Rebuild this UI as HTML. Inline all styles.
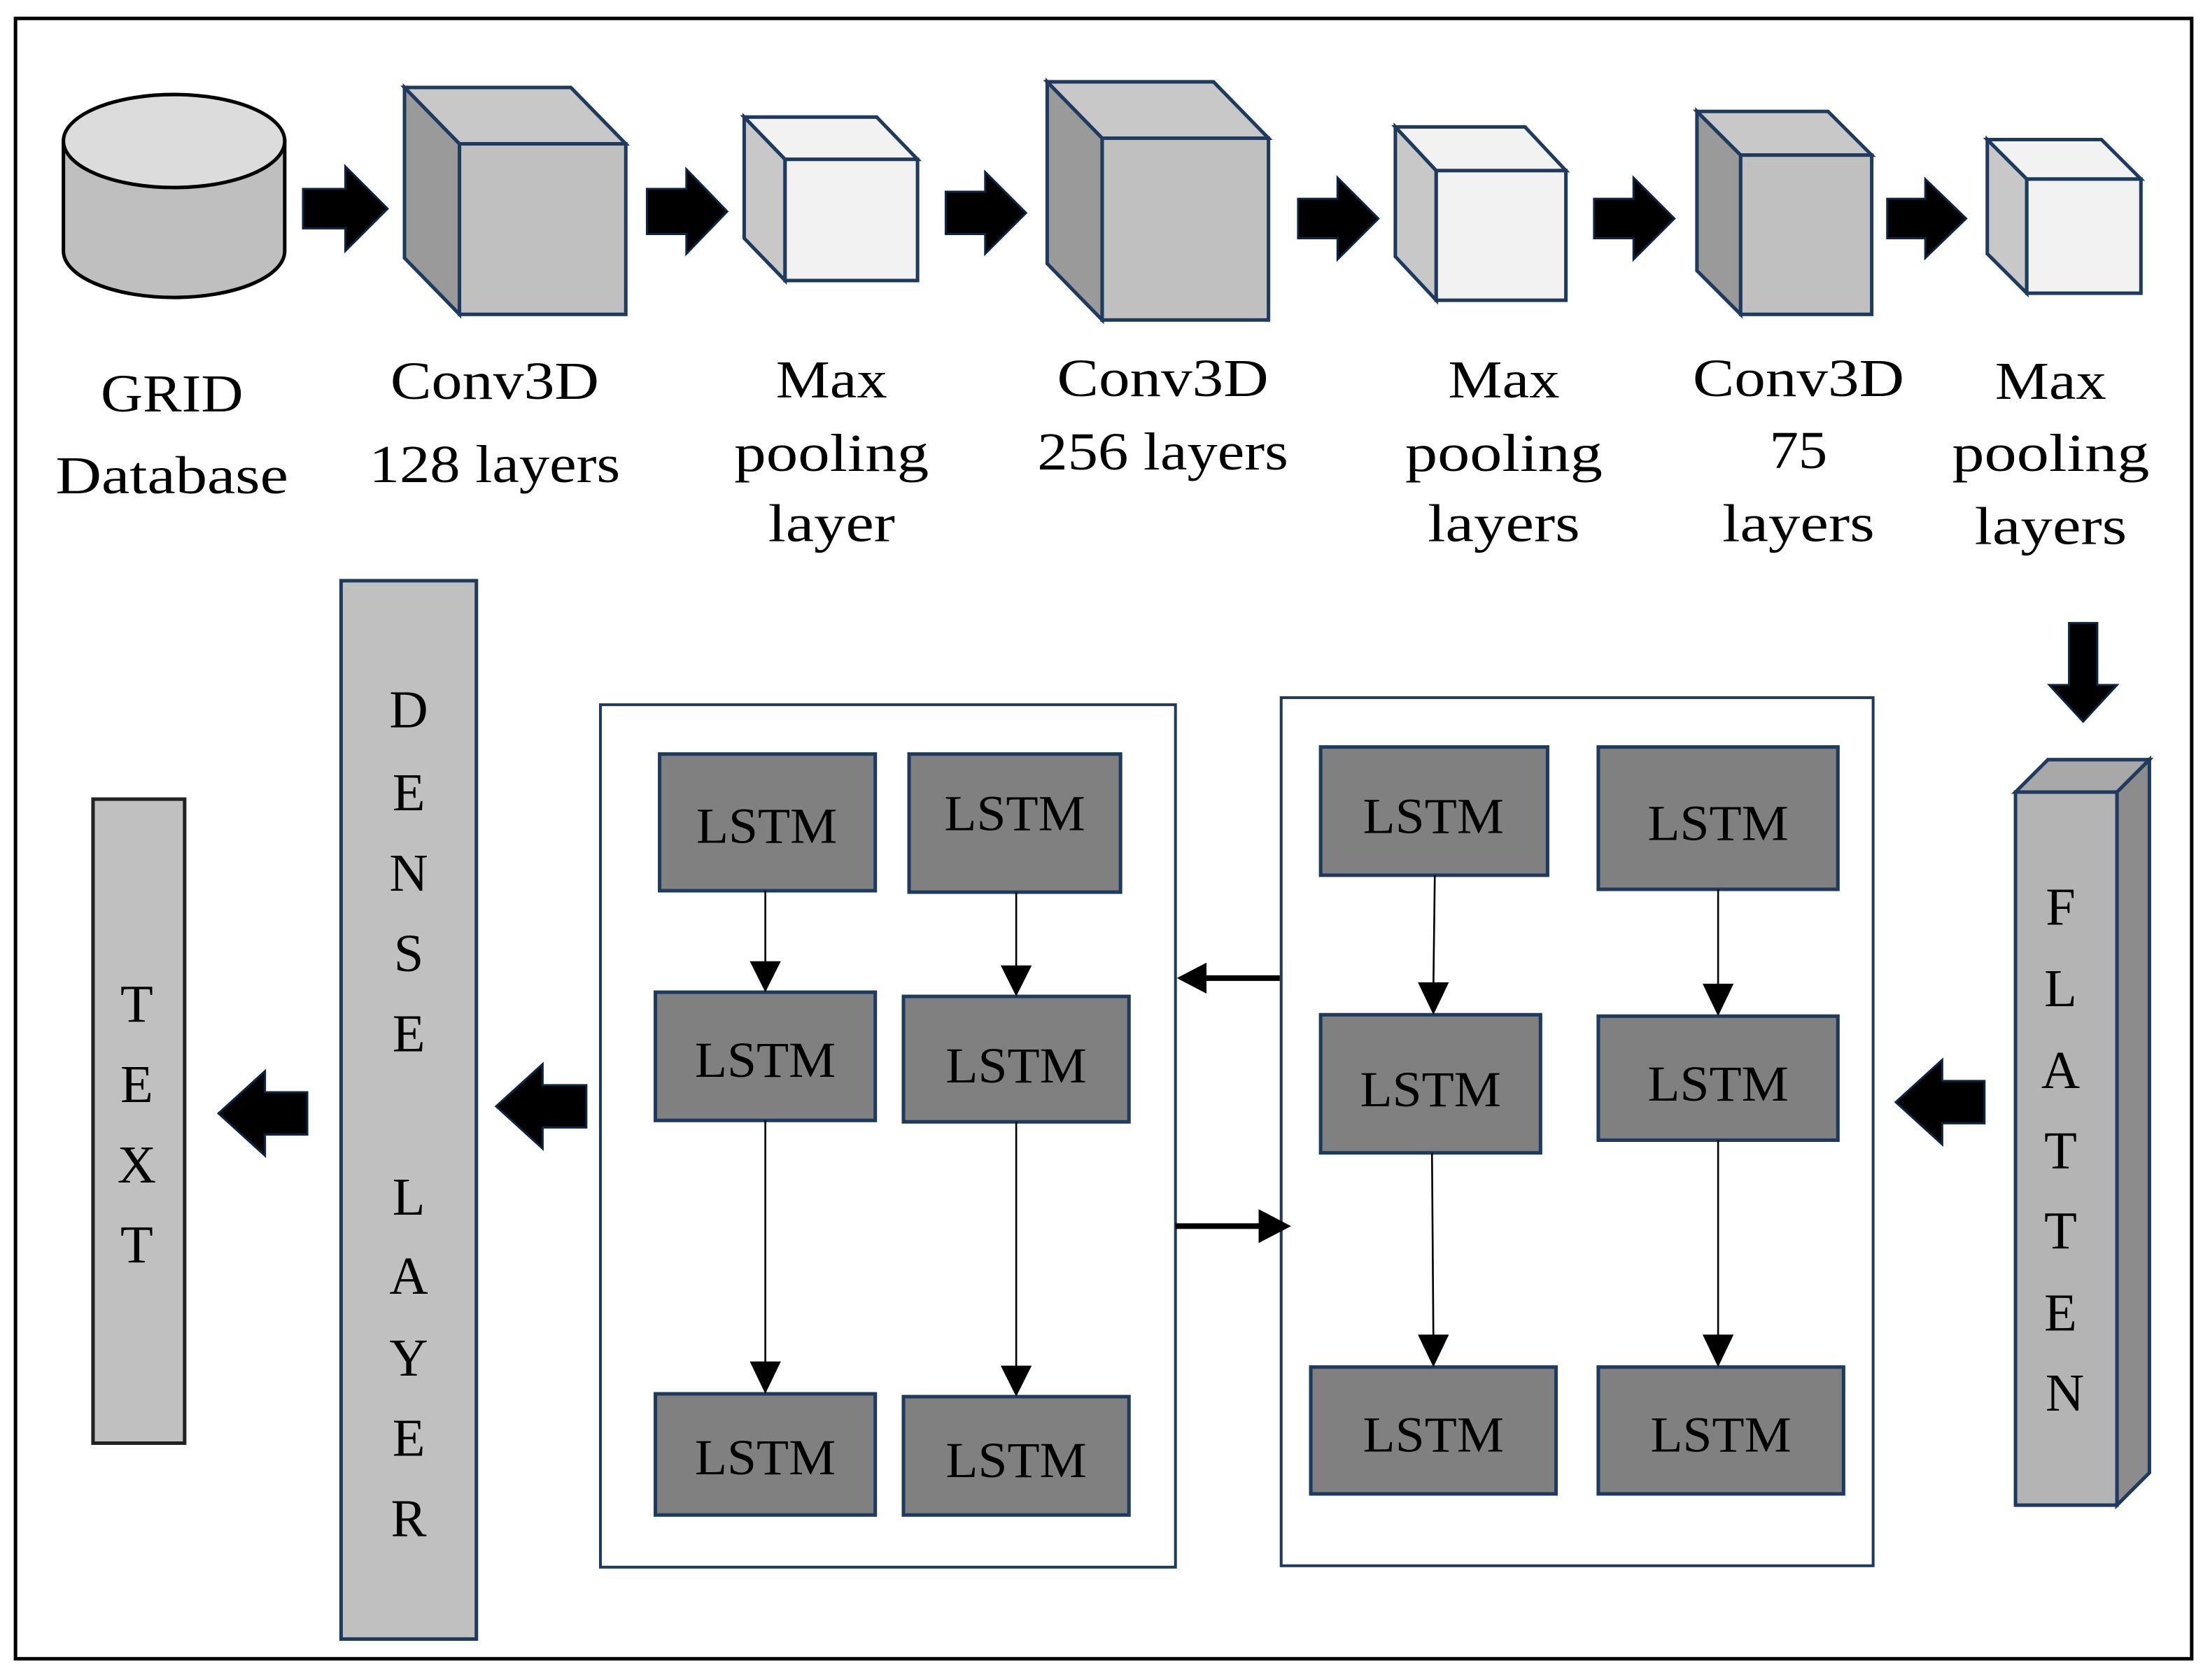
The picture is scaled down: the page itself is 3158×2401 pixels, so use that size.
<!DOCTYPE html>
<html><head><meta charset="utf-8"><style>
html,body{margin:0;padding:0;background:#fff;}
svg{display:block;}
text{font-family:"Liberation Serif",serif;fill:#000;}
</style></head><body>
<svg width="3158" height="2401" viewBox="0 0 1568 1192" xmlns="http://www.w3.org/2000/svg">
<rect x="0" y="0" width="1568" height="1192" fill="#fff"/>
<rect x="11" y="13" width="1544" height="1164" fill="none" stroke="#000" stroke-width="2.5"/>

<g stroke="#000" stroke-width="2.5">
<path d="M45,100 L45,178 A78.5,33 0 0 0 202,178 L202,100 Z" fill="#bfbfbf"/>
<ellipse cx="123.5" cy="100" rx="78.5" ry="33" fill="#dcdcdc"/>
</g>

<g fill="#000" stroke="#0b2545" stroke-width="1.5">
<path d="M215,134 H245 V118 L275,148 L245,178 V162 H215 Z"/>
<path d="M459,134 H487 V120 L516,150 L487,180 V166 H459 Z"/>
<path d="M671,136 H699 V122 L728,151 L699,180 V166 H671 Z"/>
<path d="M921,141 H949 V126 L978,155 L949,184 V169 H921 Z"/>
<path d="M1131,141 H1159 V126 L1188,155 L1159,184 V169 H1131 Z"/>
<path d="M1339,141 H1366 V127 L1395,155 L1366,183 V169 H1339 Z"/>
<path d="M1468,442 H1488 V486 H1502 L1478,512 L1454,486 H1468 Z"/>
<path d="M1408,767 H1378 V752 L1345,782 L1378,812 V797 H1408 Z"/>
<path d="M416,770 H385 V755 L352,785 L385,815 V800 H416 Z"/>
<path d="M218,775 H188 V760 L155,790 L188,820 V805 H218 Z"/>
</g>

<g stroke="#1f3a5f" stroke-width="2.5" stroke-linejoin="miter">
<path d="M287,62 L326,102 L326,223 L287,183 Z" fill="#9a9a9a"/>
<path d="M287,62 L405,62 L444,102 L326,102 Z" fill="#c8c8c8"/>
<rect x="326" y="102" width="118" height="121" fill="#c0c0c0"/>
<path d="M528,83 L557,113 L557,199 L528,169 Z" fill="#c8c8c8"/>
<path d="M528,83 L622,83 L651,113 L557,113 Z" fill="#f2f2f2"/>
<rect x="557" y="113" width="94" height="86" fill="#f2f2f2"/>
<path d="M743,58 L782,98 L782,227 L743,187 Z" fill="#9a9a9a"/>
<path d="M743,58 L861,58 L900,98 L782,98 Z" fill="#c8c8c8"/>
<rect x="782" y="98" width="118" height="129" fill="#c0c0c0"/>
<path d="M990,90 L1019,121 L1019,213 L990,182 Z" fill="#c8c8c8"/>
<path d="M990,90 L1082,90 L1111,121 L1019,121 Z" fill="#f2f2f2"/>
<rect x="1019" y="121" width="92" height="92" fill="#f2f2f2"/>
<path d="M1204,79 L1235,110 L1235,223 L1204,192 Z" fill="#9a9a9a"/>
<path d="M1204,79 L1297,79 L1328,110 L1235,110 Z" fill="#c8c8c8"/>
<rect x="1235" y="110" width="93" height="113" fill="#c0c0c0"/>
<path d="M1410,99 L1438,127 L1438,208 L1410,180 Z" fill="#c8c8c8"/>
<path d="M1410,99 L1491,99 L1519,127 L1438,127 Z" fill="#f2f2f2"/>
<rect x="1438" y="127" width="81" height="81" fill="#f2f2f2"/>
<path d="M1430,562 L1453,539 L1525,539 L1502,562 Z" fill="#a8a8a8"/>
<path d="M1502,562 L1525,539 L1525,1045 L1502,1068 Z" fill="#8c8c8c"/>
<rect x="1430" y="562" width="72" height="506" fill="#b4b4b4"/>
<rect x="242" y="412" width="96" height="751" fill="#c0c0c0"/>
<rect x="66" y="567" width="65" height="457" fill="#c0c0c0" stroke="#222"/>
<rect x="426" y="500" width="408" height="612" fill="#fff" stroke-width="2"/>
<rect x="909" y="495" width="420" height="616" fill="#fff" stroke-width="2"/>
<g fill="#808080">
<rect x="468" y="535" width="153" height="97"/>
<rect x="645" y="535" width="150" height="98"/>
<rect x="465" y="704" width="156" height="91"/>
<rect x="641" y="707" width="160" height="89"/>
<rect x="465" y="989" width="156" height="86"/>
<rect x="641" y="991" width="160" height="84"/>
<rect x="937" y="530" width="161" height="91"/>
<rect x="1134" y="530" width="170" height="101"/>
<rect x="937" y="720" width="156" height="98"/>
<rect x="1134" y="721" width="170" height="88"/>
<rect x="930" y="970" width="174" height="90"/>
<rect x="1134" y="970" width="174" height="90"/>
</g>
</g>

<g stroke="#000" stroke-width="1.3">
<line x1="543" y1="632" x2="543" y2="684"/>
<line x1="543" y1="795" x2="543" y2="968"/>
<line x1="721" y1="633" x2="721" y2="687"/>
<line x1="721" y1="796" x2="721" y2="971"/>
<line x1="1018" y1="621" x2="1017" y2="700"/>
<line x1="1016" y1="818" x2="1017" y2="950"/>
<line x1="1219" y1="631" x2="1219" y2="701"/>
<line x1="1219" y1="809" x2="1219" y2="950"/>
</g>
<g fill="#000">
<path d="M532,682 L554,682 L543,704 Z"/>
<path d="M532,966 L554,966 L543,989 Z"/>
<path d="M710,685 L732,685 L721,707 Z"/>
<path d="M710,969 L732,969 L721,991 Z"/>
<path d="M1006,697 L1028,697 L1017,720 Z"/>
<path d="M1006,947 L1028,947 L1017,970 Z"/>
<path d="M1208,698 L1230,698 L1219,721 Z"/>
<path d="M1208,947 L1230,947 L1219,970 Z"/>
<rect x="852" y="692" width="56" height="4"/>
<path d="M835,694 L856,683 L856,705 Z"/>
<rect x="834" y="868" width="62" height="4"/>
<path d="M916,870 L893,858 L893,882 Z"/>
</g>

<g font-size="38" text-anchor="middle" lengthAdjust="spacingAndGlyphs">
<text x="122" y="292" textLength="101" lengthAdjust="spacingAndGlyphs">GRID</text>
<text x="122" y="350" textLength="165" lengthAdjust="spacingAndGlyphs">Database</text>
<text x="351" y="283" textLength="148" lengthAdjust="spacingAndGlyphs">Conv3D</text>
<text x="351" y="342" textLength="178" lengthAdjust="spacingAndGlyphs">128 layers</text>
<text x="590" y="282" textLength="79" lengthAdjust="spacingAndGlyphs">Max</text>
<text x="590" y="334" textLength="138" lengthAdjust="spacingAndGlyphs">pooling</text>
<text x="590" y="384" textLength="90" lengthAdjust="spacingAndGlyphs">layer</text>
<text x="825" y="281" textLength="150" lengthAdjust="spacingAndGlyphs">Conv3D</text>
<text x="825" y="333" textLength="178" lengthAdjust="spacingAndGlyphs">256 layers</text>
<text x="1067" y="282" textLength="79" lengthAdjust="spacingAndGlyphs">Max</text>
<text x="1067" y="334" textLength="140" lengthAdjust="spacingAndGlyphs">pooling</text>
<text x="1067" y="384" textLength="108" lengthAdjust="spacingAndGlyphs">layers</text>
<text x="1276" y="281" textLength="150" lengthAdjust="spacingAndGlyphs">Conv3D</text>
<text x="1276" y="332" textLength="41" lengthAdjust="spacingAndGlyphs">75</text>
<text x="1276" y="384" textLength="108" lengthAdjust="spacingAndGlyphs">layers</text>
<text x="1455" y="283" textLength="79" lengthAdjust="spacingAndGlyphs">Max</text>
<text x="1455" y="334" textLength="140" lengthAdjust="spacingAndGlyphs">pooling</text>
<text x="1455" y="386" textLength="108" lengthAdjust="spacingAndGlyphs">layers</text>
</g>
<g font-size="36" text-anchor="middle">
<text x="544" y="598" textLength="100" lengthAdjust="spacingAndGlyphs">LSTM</text>
<text x="720" y="589" textLength="100" lengthAdjust="spacingAndGlyphs">LSTM</text>
<text x="543" y="764" textLength="100" lengthAdjust="spacingAndGlyphs">LSTM</text>
<text x="721" y="768" textLength="100" lengthAdjust="spacingAndGlyphs">LSTM</text>
<text x="543" y="1046" textLength="100" lengthAdjust="spacingAndGlyphs">LSTM</text>
<text x="721" y="1048" textLength="100" lengthAdjust="spacingAndGlyphs">LSTM</text>
<text x="1017" y="591" textLength="100" lengthAdjust="spacingAndGlyphs">LSTM</text>
<text x="1219" y="596" textLength="100" lengthAdjust="spacingAndGlyphs">LSTM</text>
<text x="1015" y="785" textLength="100" lengthAdjust="spacingAndGlyphs">LSTM</text>
<text x="1219" y="781" textLength="100" lengthAdjust="spacingAndGlyphs">LSTM</text>
<text x="1017" y="1030" textLength="100" lengthAdjust="spacingAndGlyphs">LSTM</text>
<text x="1221" y="1030" textLength="100" lengthAdjust="spacingAndGlyphs">LSTM</text>
</g>
<g font-size="38" text-anchor="middle">
<text x="1462" y="656">F</text>
<text x="1462" y="714">L</text>
<text x="1462" y="772">A</text>
<text x="1462" y="829">T</text>
<text x="1462" y="886">T</text>
<text x="1462" y="944">E</text>
<text x="1465" y="1001">N</text>
<text x="290" y="516">D</text>
<text x="290" y="575">E</text>
<text x="290" y="632">N</text>
<text x="290" y="689">S</text>
<text x="290" y="746">E</text>
<text x="290" y="862">L</text>
<text x="290" y="918">A</text>
<text x="290" y="976">Y</text>
<text x="290" y="1033">E</text>
<text x="290" y="1090">R</text>
<text x="97" y="725">T</text>
<text x="97" y="782">E</text>
<text x="97" y="839">X</text>
<text x="97" y="896">T</text>
</g>
</svg>
</body></html>
